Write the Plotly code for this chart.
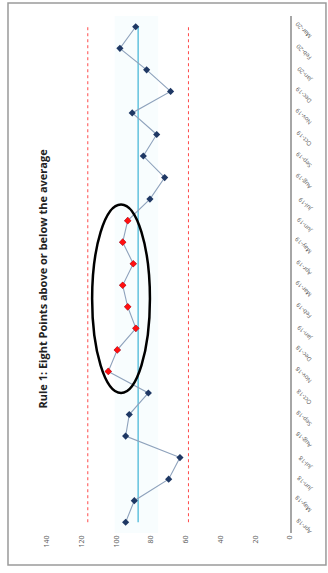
import plotly.graph_objects as go

# Monthly observations for the control chart
months = ["Apr-18", "May-18", "Jun-18", "Jul-18", "Aug-18", "Sep-18", "Oct-18",
          "Nov-18", "Dec-18", "Jan-19", "Feb-19", "Mar-19", "Apr-19", "May-19",
          "Jun-19", "Jul-19", "Aug-19", "Sep-19", "Oct-19", "Nov-19", "Dec-19",
          "Jan-20", "Feb-20", "Mar-20"]
values = [94.7, 89.7, 69.9, 63.4, 94.7, 92.6, 81.6,
          104.7, 99.5, 88.8, 93.5, 96.4, 90.3, 96.4,
          93.5, 80.7, 72.2, 84.5, 76.8, 90.9, 68.8,
          82.6, 98.0, 88.9]
# Months flagged by the rule (eight in a row above the average)
flagged = ["Nov-18", "Dec-18", "Jan-19", "Feb-19", "Mar-19", "Apr-19", "May-19", "Jun-19"]

center = 87.5
ucl = 116.5
lcl = 58.5
value_ticks = [0, 20, 40, 60, 80, 100, 120, 140]

title = "Rule 1: Eight Points above or below the average"

flag_vals = [v for m, v in zip(months, values) if m in flagged]

fig = go.Figure()

# faint band around the average
fig.add_vrect(x0=76, x1=101, fillcolor="rgba(215,244,250,0.18)", line_width=0, layer="below")

fig.add_trace(go.Scatter(x=[ucl] * len(months), y=months, mode="lines",
                         line=dict(color="#ff4a4a", width=1, dash="dot"), hoverinfo="skip"))
fig.add_trace(go.Scatter(x=[lcl] * len(months), y=months, mode="lines",
                         line=dict(color="#ff4a4a", width=1, dash="dot"), hoverinfo="skip"))
fig.add_trace(go.Scatter(x=[center] * len(months), y=months, mode="lines",
                         line=dict(color="#4bb8d8", width=1.3), hoverinfo="skip"))
fig.add_trace(go.Scatter(x=values, y=months, mode="lines+markers",
                         line=dict(color="#8ea2bc", width=1.1),
                         marker=dict(symbol="diamond", size=5.5, color="#1f3864")))
fig.add_trace(go.Scatter(x=flag_vals, y=flagged, mode="markers",
                         marker=dict(symbol="diamond", size=5.5, color="#ff1010")))

# ellipse around the flagged run
fig.add_shape(type="circle", xref="x", yref="y", x0=80.7, x1=114.0, y0=6.0, y1=14.75,
              line=dict(color="black", width=2.5))

# chart border
fig.add_shape(type="rect", xref="paper", yref="paper",
              x0=-0.1605, x1=1.148, y0=-0.062, y1=1.025,
              line=dict(color="#9a9a9a", width=1.5))

fig.add_annotation(text="<b>" + title + "</b>", xref="paper", yref="paper",
                   x=-0.058, y=0.493, textangle=-90, showarrow=False,
                   font=dict(family="Open Sans", size=11, color="#222222"))

fig.update_xaxes(range=[140, 0], tickvals=value_ticks, tickangle=-90,
                 showgrid=False, zeroline=False, showline=False,
                 tickfont=dict(family="Open Sans", size=7, color="#595959"))
fig.update_yaxes(type="category", categoryorder="array", categoryarray=months,
                 range=[-0.5, 23.5], side="right", tickangle=-135,
                 ticklabelstandoff=17, ticklabelshift=12, automargin=False,
                 showgrid=False, zeroline=False, showline=True,
                 linecolor="#a6a6a6", linewidth=1.5,
                 tickfont=dict(family="Open Sans", size=6, color="#595959"))

fig.update_layout(width=328, height=573, showlegend=False,
                  margin=dict(l=47, r=38, t=16, b=40, autoexpand=False),
                  paper_bgcolor="white", plot_bgcolor="white")

fig.write_html("out.html")
